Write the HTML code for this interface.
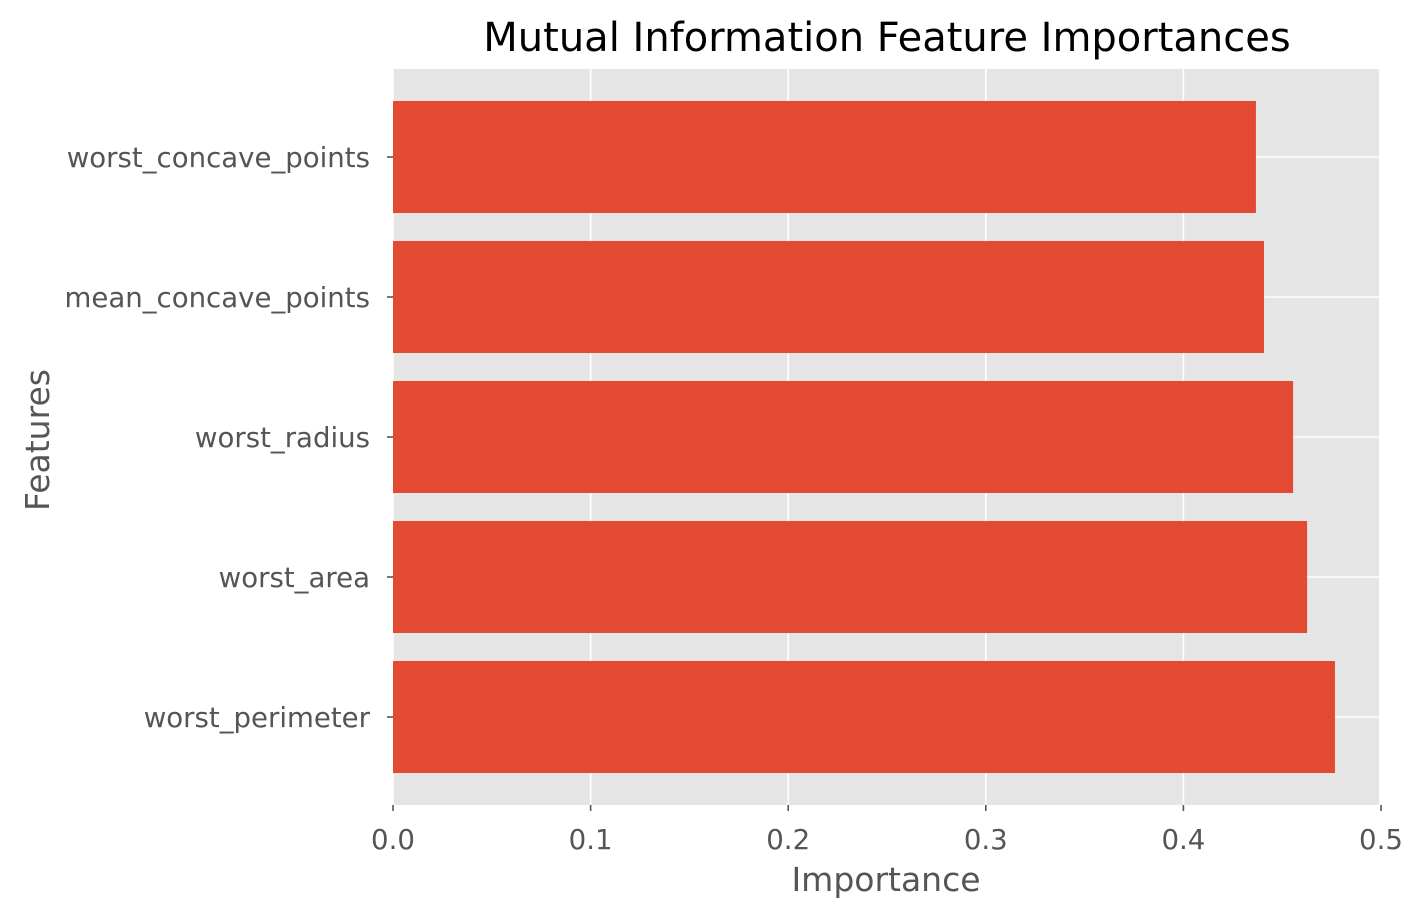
<!DOCTYPE html>
<html><head><meta charset="utf-8"><style>
body{margin:0;background:#fff}
svg text{font-family:"DejaVu Sans","Liberation Sans",sans-serif}
</style></head><body>
<svg width="1421" height="918" xmlns="http://www.w3.org/2000/svg" id="chart">
<rect x="393" y="69" width="986" height="736" fill="#e5e5e5"/>
<g id="grid"></g><g id="bars"></g><g id="axes"></g>
<text x="887" y="51" font-size="40" text-anchor="middle" fill="#000">Mutual Information Feature Importances</text>
<text x="886" y="891" font-size="33" text-anchor="middle" fill="#555">Importance</text>
<text transform="translate(49,440) rotate(-90)" font-size="33" text-anchor="middle" fill="#555">Features</text>
</svg>
<script>
const categories=["worst_perimeter","worst_area","worst_radius","mean_concave_points","worst_concave_points"];
const values=[0.4767,0.4626,0.4555,0.4408,0.4367];
const xTicks=[0,0.1,0.2,0.3,0.4,0.5];
const xTickLabels=["0.0","0.1","0.2","0.3","0.4","0.5"];
const NS="http://www.w3.org/2000/svg";
const x0=393,pxPer=1976;
const xs=v=>x0+v*pxPer;
const ys=i=>717-i*140;
function mk(t,a,p){const e=document.createElementNS(NS,t);for(const k in a)e.setAttribute(k,a[k]);p.appendChild(e);return e;}
const grid=document.getElementById('grid'),bars=document.getElementById('bars'),axes=document.getElementById('axes');
xTicks.forEach((t,i)=>{
 const g=mk('line',{x1:xs(t),x2:xs(t),y1:69,y2:805,stroke:'#fff','stroke-width':1.6},grid);
 
 
 const tk=mk('line',{x1:xs(t),x2:xs(t),y1:805,y2:811,stroke:'#555','stroke-width':1.6},axes);
 
 
 const lb=mk('text',{x:xs(t),y:849,'font-size':27.6,'text-anchor':'middle',fill:'#555'},axes);
 lb.textContent=xTickLabels[i];
 
 
});
categories.forEach((c,i)=>{
 const g=mk('line',{x1:393,x2:1379,y1:ys(i),y2:ys(i),stroke:'#fff','stroke-width':1.6},grid);
 
 
 const b=mk('rect',{x:x0,y:ys(i)-56,width:xs(values[i])-x0,height:112,fill:'#e24a33'},bars);
 
 
 const tk=mk('line',{x1:387,x2:393,y1:ys(i),y2:ys(i),stroke:'#555','stroke-width':1.6},axes);
 
 
 const lb=mk('text',{x:370,y:ys(i)+10,'font-size':27.6,'text-anchor':'end',fill:'#555'},axes);
 lb.textContent=c;
 
 
});
</script>
</body></html>
